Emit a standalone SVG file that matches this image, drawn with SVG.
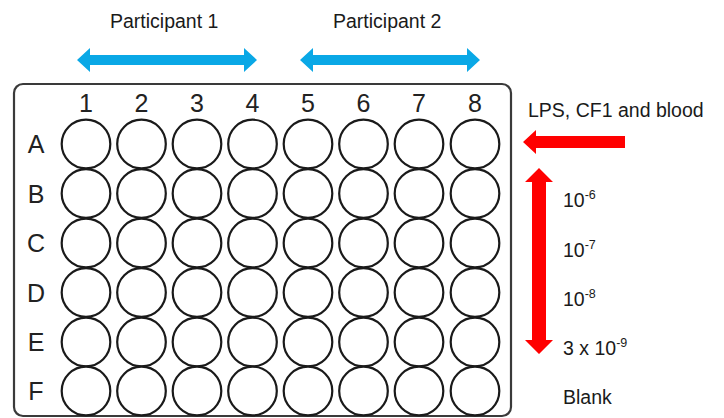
<svg xmlns="http://www.w3.org/2000/svg" width="724" height="418" viewBox="0 0 724 418">
  <style>
    text { font-family: "Liberation Sans", Arial, sans-serif; fill: #1a1a1a; }
    .lbl { font-size: 19.5px; }
    .idx { font-size: 25px; text-anchor: middle; fill: #222; }
    .sup { font-size: 12.5px; }
    .well { fill: #fff; stroke: #1a1a1a; stroke-width: 2.2; }
    .plate { fill: #fff; stroke: #3a3a3a; stroke-width: 2.2; }
    .blue { fill: #0aa8e6; }
    .red { fill: #ff0000; }
  </style>
  <defs>
    <circle id="w" r="24.3" class="well"/>
    <g id="row">
      <use href="#w" x="86"/>
      <use href="#w" x="141.5"/>
      <use href="#w" x="197"/>
      <use href="#w" x="252.5"/>
      <use href="#w" x="308"/>
      <use href="#w" x="363.5"/>
      <use href="#w" x="419"/>
      <use href="#w" x="475"/>
    </g>
  </defs>

  <!-- plate outline -->
  <g id="plate">
    <rect class="plate" x="14" y="84" width="497" height="332" rx="9"/>
  </g>

  <!-- column numbers -->
  <g id="columns">
    <text class="idx" x="86" y="112">1</text>
    <text class="idx" x="141.5" y="112">2</text>
    <text class="idx" x="197" y="112">3</text>
    <text class="idx" x="252.5" y="112">4</text>
    <text class="idx" x="308" y="112">5</text>
    <text class="idx" x="363.5" y="112">6</text>
    <text class="idx" x="419" y="112">7</text>
    <text class="idx" x="475" y="112">8</text>
  </g>

  <!-- row letters and wells -->
  <g id="rowA"><text class="idx" x="36" y="153">A</text><use href="#row" y="144"/></g>
  <g id="rowB"><text class="idx" x="36" y="202.5">B</text><use href="#row" y="193.5"/></g>
  <g id="rowC"><text class="idx" x="36" y="252">C</text><use href="#row" y="243"/></g>
  <g id="rowD"><text class="idx" x="36" y="301.5">D</text><use href="#row" y="292.5"/></g>
  <g id="rowE"><text class="idx" x="36" y="351">E</text><use href="#row" y="342"/></g>
  <g id="rowF"><text class="idx" x="36" y="400">F</text><use href="#row" y="391"/></g>

  <!-- participant labels -->
  <g id="participant1">
    <text class="lbl" x="110" y="28">Participant 1</text>
  </g>
  <g id="participant2">
    <text class="lbl" x="333" y="28">Participant 2</text>
  </g>

  <!-- side labels -->
  <g id="addition">
    <text class="lbl" x="528" y="117">LPS, CF1 and blood</text>
  </g>
  <g id="dilutions">
    <text class="lbl" x="563" y="207">10<tspan class="sup" dy="-8">-6</tspan></text>
    <text class="lbl" x="563" y="257">10<tspan class="sup" dy="-8">-7</tspan></text>
    <text class="lbl" x="563" y="306">10<tspan class="sup" dy="-8">-8</tspan></text>
    <text class="lbl" x="563" y="355">3 x 10<tspan class="sup" dy="-8">-9</tspan></text>
    <text class="lbl" x="563" y="404">Blank</text>
  </g>

  <!-- arrows -->
  <g id="connectors">
    <polygon class="blue" points="77,60 90,48 90,55 244,55 244,48 257,60 244,72 244,65 90,65 90,72"/>
    <polygon class="blue" points="300,60 313,48 313,55 467,55 467,48 480,60 467,72 467,65 313,65 313,72"/>
    <polygon class="red" points="523,142 536,130 536,136 625,136 625,148 536,148 536,154"/>
    <polygon class="red" points="539,168 553,182 546,182 546,340 553,340 539,354 525,340 532,340 532,182 525,182"/>
  </g>
</svg>
